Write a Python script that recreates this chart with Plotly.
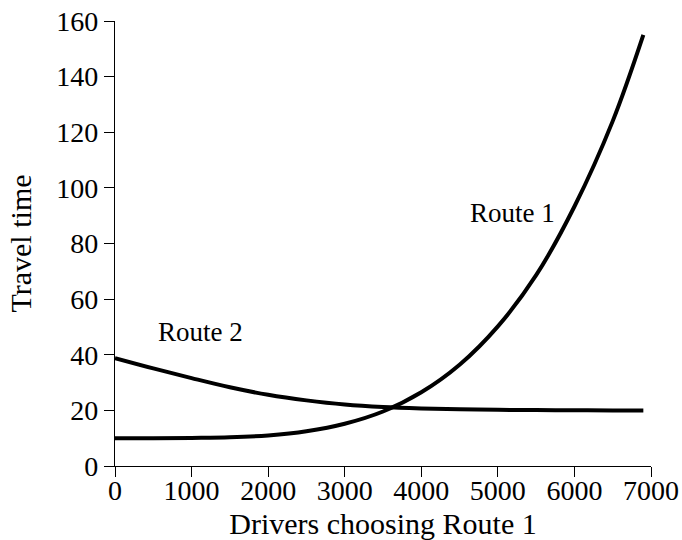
import plotly.graph_objects as go

drivers = [0, 500, 1000, 1500, 2000, 2500, 3000, 3500, 4000, 4500, 5000, 5500, 6000, 6500, 6900]
route1_time = [10.0, 10.0, 10.1, 10.3, 11.0, 12.5, 15.2, 19.6, 26.5, 36.4, 50.2, 68.6, 93.3, 124.0, 155.0]
route2_time = [38.8, 35.1, 31.6, 28.3, 25.6, 23.6, 22.1, 21.2, 20.7, 20.4, 20.2, 20.1, 20.05, 20.0, 20.0]

x_ticks = [0, 1000, 2000, 3000, 4000, 5000, 6000, 7000]
y_ticks = [0, 20, 40, 60, 80, 100, 120, 140, 160]

FONT = "Liberation Serif"

fig = go.Figure()
fig.add_trace(go.Scatter(x=drivers, y=route1_time, mode="lines",
                         line=dict(color="black", width=4, shape="spline"),
                         name="Route 1", showlegend=False))
fig.add_trace(go.Scatter(x=drivers, y=route2_time, mode="lines",
                         line=dict(color="black", width=4, shape="spline"),
                         name="Route 2", showlegend=False))

fig.add_annotation(x=5185, y=91, text="Route 1", showarrow=False,
                   font=dict(family=FONT, size=27, color="black"))
fig.add_annotation(x=1120, y=48.2, text="Route 2", showarrow=False,
                   font=dict(family=FONT, size=27, color="black"))

axis_common = dict(showgrid=False, zeroline=False, showline=True, linecolor="black",
                   linewidth=1.2, ticks="outside", ticklen=10, tickwidth=1,
                   tickcolor="black", tickfont=dict(family=FONT, size=28, color="black"),
                   mirror=False, automargin=False)

fig.update_layout(
    width=682, height=540,
    margin=dict(l=115, r=31, t=21, b=74),
    plot_bgcolor="white", paper_bgcolor="white",
    xaxis=dict(range=[0, 7000], tickvals=x_ticks, ticktext=[str(v) for v in x_ticks],
               ticklabelstandoff=-11,
               title=dict(text="Drivers choosing Route 1", font=dict(family=FONT, size=30, color="black")),
               **axis_common),
    yaxis=dict(range=[0, 160], tickvals=y_ticks, ticktext=[str(v) for v in y_ticks],
               title=dict(text="Travel time", font=dict(family=FONT, size=30, color="black")),
               **axis_common),
)

fig.write_html("out.html", config={"displayModeBar": False},
               post_script="document.body.style.margin='0';")
